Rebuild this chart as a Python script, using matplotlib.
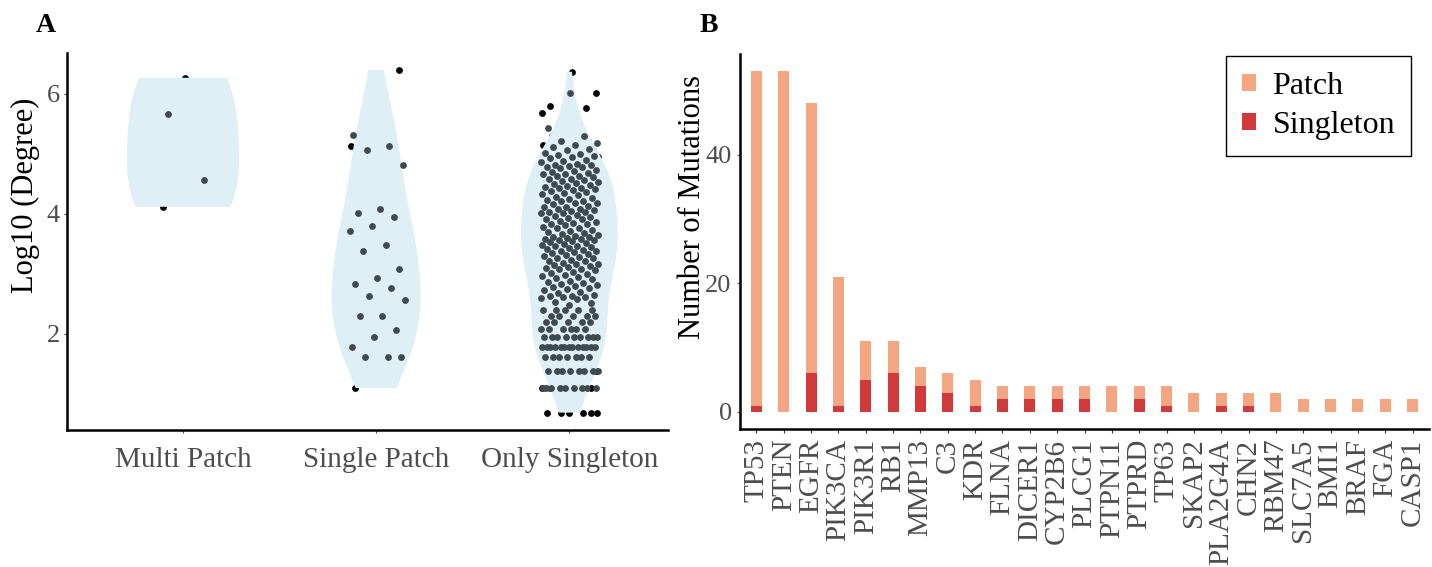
import numpy as np
import matplotlib.pyplot as plt
from matplotlib.patches import Patch

plt.rcParams['font.family'] = ['Liberation Serif', 'DejaVu Serif']

# ---------------- Panel A: ln(degree) per group ----------------
groups = ['Multi Patch', 'Single Patch', 'Only Singleton']

# grey jitter points
multi_vals = [5.67, 4.56]
# black points, mostly hidden behind the violin
multi_extra = [6.27, 4.12]

single_vals = [5.31, 5.13, 5.06, 4.81, 4.09, 4.02, 3.95, 3.80, 3.71, 3.49,
               3.39, 3.09, 2.94, 2.83, 2.77, 2.64, 2.56, 2.30, 2.30, 2.07,
               1.95, 1.79, 1.61, 1.61, 1.61]
single_extra = [6.40, 5.43, 1.10]

# discrete rows at the bottom of "Only Singleton" (value, count)
only_rows = [1.10, 1.39, 1.61, 1.79, 1.95, 2.08, 2.20, 2.30, 2.40]
only_row_counts = [9, 8, 7, 13, 9, 6, 5, 5, 5]
only_upper = [6.02, 5.44, 5.30, 5.22, 5.19, 5.15, 5.11, 5.09, 5.07,
              5.02, 5.00, 4.99, 4.97, 4.95, 4.93, 4.90, 4.88, 4.86,
              4.84, 4.82, 4.81, 4.80, 4.79, 4.78, 4.76, 4.74,
              4.72, 4.70, 4.69, 4.67, 4.66, 4.64, 4.63, 4.61,
              4.59, 4.58, 4.57, 4.55, 4.54, 4.52, 4.50, 4.48,
              4.46, 4.45, 4.44, 4.43, 4.41, 4.40, 4.39, 4.37, 4.35, 4.33,
              4.31, 4.29, 4.27, 4.25, 4.24,
              4.22, 4.21, 4.19, 4.18, 4.16, 4.14, 4.12, 4.11, 4.09, 4.08,
              4.06, 4.05, 4.04, 4.03, 4.02, 4.01, 3.99, 3.97, 3.95, 3.94,
              3.92, 3.91, 3.89, 3.87, 3.85, 3.84, 3.83, 3.81, 3.79, 3.77,
              3.76, 3.74, 3.72, 3.70, 3.68,
              3.66, 3.65, 3.64, 3.62, 3.61, 3.60, 3.59, 3.58, 3.57, 3.56,
              3.55, 3.53, 3.52, 3.50, 3.48, 3.47, 3.46, 3.45, 3.44, 3.42,
              3.40, 3.39, 3.38, 3.36, 3.35, 3.33, 3.32, 3.30, 3.29,
              3.27, 3.26, 3.24, 3.22, 3.21,
              3.19, 3.17, 3.16, 3.15, 3.13, 3.12, 3.10, 3.09, 3.08, 3.06,
              3.04, 3.02, 3.00, 2.98, 2.97, 2.95, 2.93, 2.91,
              2.89, 2.87, 2.85, 2.84, 2.82, 2.80,
              2.78, 2.77, 2.75, 2.74, 2.70, 2.68,
              2.65, 2.64, 2.63, 2.62, 2.61, 2.60, 2.59,
              2.53, 2.51, 2.49]
only_extra = [6.37, 5.80, 5.76, 5.74, 5.68, 5.38, 5.22,
              0.69, 0.69, 0.69, 0.69, 0.69, 0.69]

only_vals = list(np.repeat(only_rows, only_row_counts)) + only_upper

grey_sets = [multi_vals, single_vals, only_vals]
black_sets = [multi_extra, single_extra, only_extra]

# ---------------- Panel B: mutation counts per gene ----------------
genes = ['TP53', 'PTEN', 'EGFR', 'PIK3CA', 'PIK3R1', 'RB1', 'MMP13', 'C3',
         'KDR', 'FLNA', 'DICER1', 'CYP2B6', 'PLCG1', 'PTPN11', 'PTPRD',
         'TP63', 'SKAP2', 'PLA2G4A', 'CHN2', 'RBM47', 'SLC7A5', 'BMI1',
         'BRAF', 'FGA', 'CASP1']
singleton = [1, 0, 6, 1, 5, 6, 4, 3, 1, 2, 2, 2, 2, 0, 2, 1, 0, 1, 1, 0,
             0, 0, 0, 0, 0]
patch = [52, 53, 42, 20, 6, 5, 3, 3, 4, 2, 2, 2, 2, 4, 2, 3, 3, 2, 2, 3,
         2, 2, 2, 2, 2]

PATCH_COL = '#F4A582'
SINGLE_COL = '#D03A3A'
VIOLIN_COL = '#DEEFF5'
POINT_COL = '#3F4A4F'
TICK_COL = '#4D4D4D'


def nrd0(kde):
    # R's default bandwidth (slightly widened), as a factor of the data sd
    d = np.asarray(kde.dataset).ravel()
    sd = d.std(ddof=1)
    iqr = np.subtract(*np.percentile(d, [75, 25]))
    bw = 0.9 * min(sd, iqr / 1.34) * len(d) ** -0.2
    return 1.2 * bw / sd


def jitter(n, phase, width=0.15):
    # spread points evenly with a golden-ratio sequence (no randomness)
    k = (np.arange(n) * 0.6180339887 + phase) % 1.0
    return width * (2 * k - 1)


W, H = 1432, 567
fig = plt.figure(figsize=(W / 100, H / 100), dpi=100)
axA = fig.add_axes([67 / W, 1 - 430 / H, 601 / W, 377 / H])
axB = fig.add_axes([740 / W, 1 - 429 / H, 689 / W, 375 / H])

# ---- panel A
pos = [1, 2, 3]
all_sets = [g + b for g, b in zip(grey_sets, black_sets)]
parts = axA.violinplot(all_sets, positions=pos, widths=[0.58, 0.46, 0.5],
                       showextrema=False, bw_method=nrd0)
for body in parts['bodies']:
    body.set_facecolor(VIOLIN_COL)
    body.set_edgecolor('none')
    body.set_alpha(1)
    body.set_zorder(2)

black_phase = [0.3, 0.449, 0.55]
grey_phase = [0.25, 0.1, 0.1]
for p, g, b, bp, gp in zip(pos, grey_sets, black_sets, black_phase, grey_phase):
    vals = np.array(g + b)
    axA.scatter(p + jitter(len(vals), bp), vals, s=24, color='black',
                linewidths=0, zorder=1)
    gv = np.array(g)
    axA.scatter(p + jitter(len(gv), gp), gv, s=24, color=POINT_COL,
                linewidths=0, zorder=3)

axA.set_xlim(0.4, 3.51)
axA.set_ylim(0.4, 6.683)
axA.set_xticks(pos)
axA.set_xticklabels(groups)
axA.set_yticks([2, 4, 6])
axA.tick_params(axis='x', labelsize=21, colors=TICK_COL, length=2, pad=10,
                labelcolor=TICK_COL)
axA.tick_params(axis='y', labelsize=19, colors=TICK_COL, length=2, pad=3,
                labelcolor=TICK_COL)
fig.text(25 / W, 1 - 195 / H, 'Log10 (Degree)', rotation=90, fontsize=22,
         ha='center', va='center')

# ---- panel B
x = np.arange(len(genes))
axB.bar(x, singleton, 0.4, color=SINGLE_COL, zorder=2)
axB.bar(x, patch, 0.4, bottom=singleton, color=PATCH_COL, zorder=2)
axB.set_xlim(-0.6, len(genes) - 0.4)
axB.set_ylim(-2.65, 55.65)
axB.set_yticks([0, 20, 40])
axB.set_xticks(x)
axB.set_xticklabels(genes, rotation=90)
axB.tick_params(axis='x', labelsize=21, colors='#333333', length=3, pad=4,
                labelcolor=TICK_COL)
axB.tick_params(axis='y', labelsize=19, colors=TICK_COL, length=2, pad=4,
                labelcolor=TICK_COL)
fig.text(693 / W, 1 - 207 / H, 'Number of Mutations', rotation=90,
         fontsize=22, ha='center', va='center')

handles = [Patch(facecolor=PATCH_COL, label='Patch'),
           Patch(facecolor=SINGLE_COL, label='Singleton')]
leg = axB.legend(handles=handles, loc='upper right',
                 bbox_to_anchor=(1411 / W, 1 - 56 / H),
                 bbox_transform=fig.transFigure, borderaxespad=0,
                 fontsize=23, handlelength=0.45, handleheight=0.45,
                 handletextpad=0.5, labelspacing=0.3, borderpad=0.5,
                 fancybox=False, framealpha=1)
leg.get_frame().set_edgecolor('black')
leg.get_frame().set_linewidth(1.0)

for ax in (axA, axB):
    for s in ('top', 'right'):
        ax.spines[s].set_visible(False)
    for s in ('left', 'bottom'):
        ax.spines[s].set_linewidth(1.8)
        ax.spines[s].set_color('black')

fig.text(46 / W, 1 - 26 / H, 'A', fontsize=20, fontweight='bold',
         ha='center', va='center')
fig.text(709 / W, 1 - 26 / H, 'B', fontsize=20, fontweight='bold',
         ha='center', va='center')

fig.savefig('out.png', dpi=100)
